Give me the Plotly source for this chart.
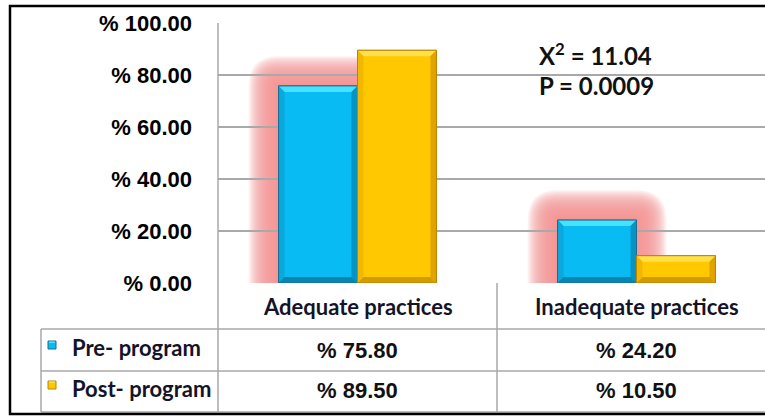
import plotly.graph_objects as go

# ---- data ----
categories = ["Adequate practices", "Inadequate practices"]
series_names = ["Pre- program", "Post- program"]
pre_program = [75.80, 24.20]
post_program = [89.50, 10.50]
y_ticks = [0, 20, 40, 60, 80, 100]
y_tick_labels = ["% 0.00", "% 20.00", "% 40.00", "% 60.00", "% 80.00", "% 100.00"]
chi_square = "11.04"
p_value = "0.0009"

# ---- canvas geometry (pixels) ----
W, H = 765, 416
PLOT_L, PLOT_T, PLOT_B = 218, 23, 283
CAT_PX = 279                      # width of one category band
ROW_LINES = [329, 371, 412]        # table row separators
LEGEND_L = 41

def px(x):
    return x / W

def py(y):
    return 1 - y / H

BARGAP = 0.434
BW = (1 - BARGAP) / 2             # width of a single bar in category units
XPX = 1 / CAT_PX                  # one pixel in x data units
YPX = 100 / (PLOT_B - PLOT_T)     # one pixel in y data units

x_pos = list(range(len(categories)))
x_range = [-0.5, -0.5 + (W - PLOT_L) / CAT_PX]

BLUE = dict(face="#08BBF3", top="#45E3FF", left="#0AA8DC", right="#0793C4",
            bottom="#0786B4", line="#1B6E8E")
GOLD = dict(face="#FFC800", top="#FFE04A", left="#F2B800", right="#E0A300",
            bottom="#D69A00", line="#B98600")

fig = go.Figure()
fig.add_trace(go.Bar(x=x_pos, y=pre_program, name=series_names[0],
                     marker=dict(color=BLUE["face"], line=dict(color=BLUE["line"], width=1))))
fig.add_trace(go.Bar(x=x_pos, y=post_program, name=series_names[1],
                     marker=dict(color=GOLD["face"], line=dict(color=GOLD["line"], width=1))))

shapes = []

# soft red halo behind the pre-program bars
GLOW = "rgb(240,150,152)"
for i, v in zip(x_pos, pre_program):
    bx0, bx1 = i - BW, i
    for e in range(1, 31):
        x0, x1 = bx0 - e * XPX, bx1 + e * XPX
        y1 = v + e * YPX
        rx, ry = e * XPX, e * YPX
        path = (f"M {x0},-5 L {x0},{y1 - ry} Q {x0},{y1} {x0 + rx},{y1} "
                f"L {x1 - rx},{y1} Q {x1},{y1} {x1},{y1 - ry} L {x1},-5 Z")
        shapes.append(dict(type="path", path=path, xref="x", yref="y",
                           fillcolor=GLOW, opacity=0.095, line=dict(width=0),
                           layer="below"))

# bevelled edges on every bar
def bevel(x0, x1, top, pal, b=6):
    bx, by = b * XPX, min(b * YPX, top / 3)
    out = []
    faces = [
        (pal["top"], f"M {x0},{top} L {x1},{top} L {x1 - bx},{top - by} L {x0 + bx},{top - by} Z"),
        (pal["left"], f"M {x0},{top} L {x0 + bx},{top - by} L {x0 + bx},{by} L {x0},0 Z"),
        (pal["right"], f"M {x1},{top} L {x1},0 L {x1 - bx},{by} L {x1 - bx},{top - by} Z"),
        (pal["bottom"], f"M {x0},0 L {x1},0 L {x1 - bx},{by} L {x0 + bx},{by} Z"),
    ]
    for col, p in faces:
        out.append(dict(type="path", path=p, xref="x", yref="y", fillcolor=col,
                        line=dict(width=0), layer="above"))
    out.append(dict(type="rect", x0=x0, x1=x1, y0=0, y1=top, xref="x", yref="y",
                    line=dict(color=pal["line"], width=1), layer="above"))
    return out

for i, v in zip(x_pos, pre_program):
    shapes += bevel(i - BW, i, v, BLUE)
for i, v in zip(x_pos, post_program):
    shapes += bevel(i, i + BW, v, GOLD)

# data table under the axis
GRID = "#A9A9A9"
shapes.append(dict(type="line", xref="paper", yref="paper", x0=px(PLOT_L), x1=px(PLOT_L),
                   y0=py(PLOT_T), y1=py(ROW_LINES[-1]), line=dict(color=GRID, width=1.5)))
for b in [0.5, 1.5]:
    shapes.append(dict(type="line", xref="x", yref="paper", x0=b, x1=b,
                       y0=py(PLOT_B), y1=py(ROW_LINES[-1]), line=dict(color=GRID, width=1.5)))
for r in ROW_LINES:
    shapes.append(dict(type="line", xref="paper", yref="paper", x0=px(LEGEND_L), x1=1.02,
                       y0=py(r), y1=py(r), line=dict(color=GRID, width=1.5)))
shapes.append(dict(type="line", xref="paper", yref="paper", x0=px(LEGEND_L), x1=px(LEGEND_L),
                   y0=py(ROW_LINES[0]), y1=py(ROW_LINES[-1]), line=dict(color=GRID, width=1.5)))

# legend keys in the table
for (yc, pal) in [(345, BLUE), (385, GOLD)]:
    shapes.append(dict(type="rect", xref="paper", yref="paper",
                       x0=px(48), x1=px(56), y0=py(yc + 4), y1=py(yc - 4),
                       fillcolor=pal["face"], line=dict(color=pal["line"], width=1)))
    shapes.append(dict(type="rect", xref="paper", yref="paper",
                       x0=px(49), x1=px(55), y0=py(yc - 2), y1=py(yc - 3.5),
                       fillcolor=pal["top"], line=dict(width=0)))

# outer frame
shapes.append(dict(type="path", xref="paper", yref="paper",
                   path=f"M 1.05,{py(6)} L {px(10)},{py(6)} L {px(10)},{py(414)} L 1.05,{py(414)}",
                   line=dict(color="#000000", width=2.5)))

TBL_FONT = dict(family="Lato, Open Sans, sans-serif", size=22, color="#141428", weight="bold")
NUM_FONT = dict(family="Liberation Sans, Arial, sans-serif", size=22, color="#111111", weight="bold")

annotations = []
for i, c in zip(x_pos, categories):
    annotations.append(dict(x=i, y=py(306), xref="x", yref="paper", text=c, showarrow=False,
                            font=TBL_FONT, xanchor="center", yanchor="middle"))
for vals, yc in [(pre_program, 350), (post_program, 390)]:
    for i, v in zip(x_pos, vals):
        annotations.append(dict(x=i, y=py(yc), xref="x", yref="paper", text=f"% {v:.2f}",
                                showarrow=False, font=NUM_FONT, xanchor="center", yanchor="middle"))
for name, yc in zip(series_names, [347, 388]):
    annotations.append(dict(x=px(70), y=py(yc), xref="paper", yref="paper", text=name,
                            showarrow=False, font=TBL_FONT, xanchor="left", yanchor="middle"))

STAT_FONT = dict(family="Lato, Open Sans, sans-serif", size=24, color="#111111", weight="bold")
annotations.append(dict(x=px(537), y=py(54), xref="paper", yref="paper",
                        text=f"X<sup>2</sup> = {chi_square}", showarrow=False, font=STAT_FONT,
                        xanchor="left", yanchor="middle"))
annotations.append(dict(x=px(537), y=py(86), xref="paper", yref="paper",
                        text=f"P = {p_value}", showarrow=False, font=STAT_FONT,
                        xanchor="left", yanchor="middle"))

fig.update_layout(
    width=W, height=H,
    margin=dict(l=0, r=0, t=0, b=0, autoexpand=False),
    paper_bgcolor="white", plot_bgcolor="white",
    barmode="group", bargap=BARGAP, bargroupgap=0,
    showlegend=False,
    shapes=shapes, annotations=annotations,
    xaxis=dict(domain=[px(PLOT_L), 1], range=x_range, showticklabels=False, automargin=False,
               showgrid=False, zeroline=False, showline=False, fixedrange=True),
    yaxis=dict(domain=[py(PLOT_B), py(PLOT_T)], range=[0, 100], automargin=False,
               tickvals=y_ticks, ticktext=y_tick_labels, ticks="",
               ticklabelstandoff=25, showgrid=True, gridcolor=GRID, gridwidth=1.5,
               zeroline=False, showline=False,
               tickfont=dict(family="Liberation Sans, Arial, sans-serif", size=22,
                             color="#000000", weight="bold")),
)

fig.write_html("out.html")
